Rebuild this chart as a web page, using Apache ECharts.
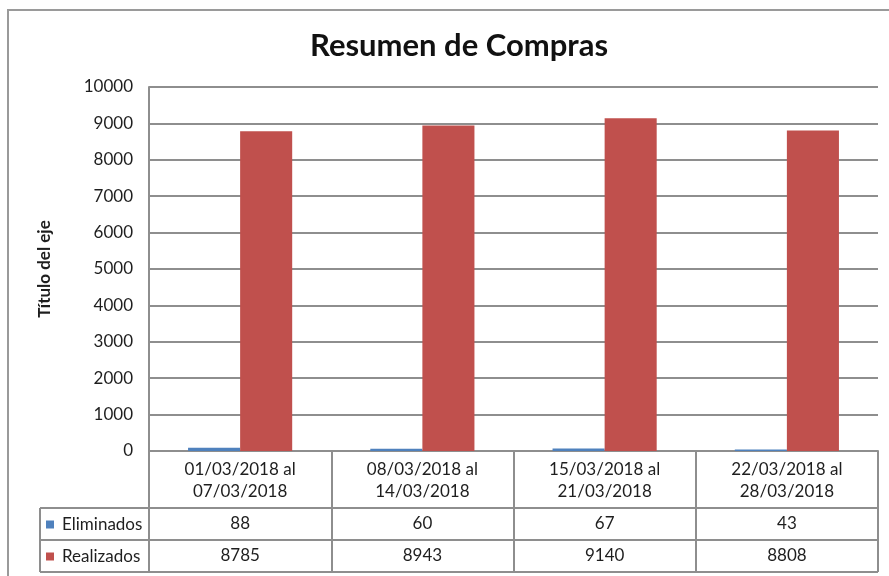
<!DOCTYPE html>
<html>
<head>
<meta charset="utf-8">
<title>Resumen de Compras</title>
<script src="https://cdn.jsdelivr.net/npm/echarts@6/dist/echarts.min.js"></script>
<style>
  html, body { margin: 0; padding: 0; background: #ffffff; }
  #chart { width: 889px; height: 576px; }
</style>
</head>
<body>
<div id="chart"></div>
<script>
// Weekly purchase periods (two-line labels) and their series
const periodStart = ['01/03/2018 al', '08/03/2018 al', '15/03/2018 al', '22/03/2018 al'];
const periodEnd = ['07/03/2018', '14/03/2018', '21/03/2018', '28/03/2018'];
const categories = periodStart.map((s, i) => s + '\n' + periodEnd[i]);

const seriesNames = ['Eliminados', 'Realizados'];
const eliminados = [88, 60, 67, 43];
const realizados = [8785, 8943, 9140, 8808];

const yTicks = { min: 0, max: 10000, interval: 1000 };

// Layout
const W = 889, H = 576;
const gridLeft = 149, gridRight = 878, gridTop = 87, gridBottom = 451;
const tableLeft = 40, rowTops = [508, 540, 572];
const lineColor = '#8e8e8e';
const textColor = '#1e1e1e';
const font = 'Lato, "Liberation Sans", sans-serif';
const colors = ['#4F81BD', '#C0504D'];
const labelSize = 17;

const chart = echarts.init(document.getElementById('chart'), null, { renderer: 'canvas' });

const tableLines = rowTops.map(y => ({
  type: 'line',
  shape: { x1: tableLeft, y1: y, x2: gridRight, y2: y },
  style: { stroke: lineColor, lineWidth: 2 },
  silent: true
}));
tableLines.push({
  type: 'line',
  shape: { x1: tableLeft, y1: rowTops[0], x2: tableLeft, y2: rowTops[2] },
  style: { stroke: lineColor, lineWidth: 2 },
  silent: true
});
// chart frame (left and top edges)
tableLines.push({
  type: 'polyline',
  shape: { points: [[8, H + 5], [8, 10], [W + 5, 10]] },
  style: { stroke: '#9a9a9a', lineWidth: 2, fill: null },
  silent: true
});

chart.setOption({
  animation: false,
  backgroundColor: '#ffffff',
  color: colors,
  textStyle: { fontFamily: font, color: textColor },
  title: {
    text: 'Resumen de Compras',
    left: 305,
    top: 25,
    textStyle: { fontFamily: font, fontSize: 31, fontWeight: 'bold', color: '#111' }
  },
  legend: {
    data: seriesNames,
    orient: 'vertical',
    left: 46,
    top: 516,
    padding: 0,
    itemWidth: 8,
    itemHeight: 8,
    itemGap: 15,
    icon: 'rect',
    selectedMode: false,
    textStyle: { fontFamily: font, fontSize: labelSize, lineHeight: 16, color: textColor, padding: [0, 0, 0, 3] }
  },
  grid: {
    left: gridLeft,
    right: W - gridRight,
    top: gridTop,
    bottom: H - gridBottom,
    containLabel: false
  },
  xAxis: {
    type: 'category',
    data: categories,
    axisLine: { show: true, lineStyle: { color: lineColor, width: 2 } },
    axisTick: { show: true, alignWithLabel: false, length: rowTops[2] - gridBottom, lineStyle: { color: lineColor, width: 2 } },
    axisLabel: {
      interval: 0,
      margin: 8,
      verticalAlign: 'top',
      formatter: function (value, idx) {
        const lines = value.split('\n');
        return '{h|' + lines[0] + '}\n{h|' + lines[1] + '}\n{a|' + eliminados[idx] + '}\n{b|' + realizados[idx] + '}';
      },
      rich: {
        h: { fontFamily: font, fontSize: labelSize, lineHeight: 22, color: textColor },
        a: { fontFamily: font, fontSize: labelSize, lineHeight: 42, color: textColor },
        b: { fontFamily: font, fontSize: labelSize, lineHeight: 22, color: textColor }
      }
    }
  },
  yAxis: {
    type: 'value',
    min: yTicks.min,
    max: yTicks.max,
    interval: yTicks.interval,
    name: 'Título del eje',
    nameLocation: 'middle',
    nameRotate: 90,
    nameGap: 96,
    nameTextStyle: { fontFamily: font, fontSize: 17, fontWeight: 'bold', color: textColor },
    axisLine: { show: true, lineStyle: { color: lineColor, width: 2 } },
    axisTick: { show: false },
    axisLabel: {
      margin: 16,
      fontFamily: font,
      fontSize: labelSize,
      color: textColor,
      formatter: v => String(v)
    },
    splitLine: { show: true, lineStyle: { color: lineColor, width: 2 } }
  },
  series: [
    {
      name: seriesNames[0],
      type: 'bar',
      data: eliminados,
      barGap: '0%',
      barCategoryGap: '42.86%',
      itemStyle: { color: colors[0] }
    },
    {
      name: seriesNames[1],
      type: 'bar',
      data: realizados,
      barGap: '0%',
      barCategoryGap: '42.86%',
      itemStyle: { color: colors[1] }
    }
  ],
  graphic: tableLines
});
</script>
</body>
</html>
